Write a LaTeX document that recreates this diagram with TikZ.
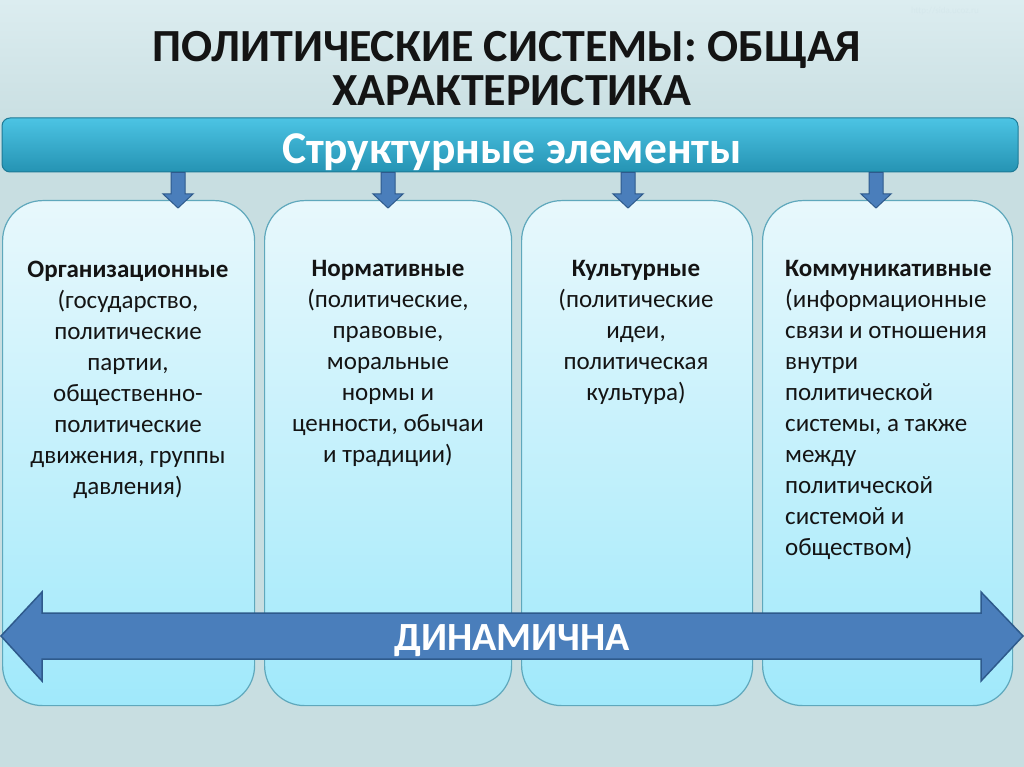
\documentclass[tikz,border=0pt]{standalone}
\usepackage{fontspec}
\setmainfont{Carlito}
\usetikzlibrary{calc}
\definecolor{bg}{HTML}{C8DEE1}
\definecolor{bgtop}{HTML}{DCEDF0}
\definecolor{barTop}{HTML}{4CC4E4}
\definecolor{barBot}{HTML}{2593B3}
\definecolor{barEdge}{HTML}{1E7A96}
\definecolor{boxTop}{HTML}{E8F8FC}
\definecolor{boxBot}{HTML}{A0E9FB}
\definecolor{boxEdge}{HTML}{5FA8BC}
\definecolor{arrFill}{HTML}{4A7EBB}
\definecolor{arrEdge}{HTML}{2E5A8C}
\definecolor{ink}{HTML}{141414}
\definecolor{url}{HTML}{D6E8EC}
\tikzset{
  hdr/.style={draw=barEdge, line width=1pt, top color=barTop, bottom color=barBot,
    rounded corners=8pt},
  elbox/.style={draw=boxEdge, line width=1.2pt, top color=boxTop, bottom color=boxBot,
    rounded corners=40pt, anchor=north west, inner sep=0pt},
  eltext/.style={text=ink, inner sep=0pt, font=\fontsize{25}{31}\selectfont},
  blk/.style={fill=arrFill, draw=arrEdge, line width=1pt, line join=miter},
  title/.style={text=ink, align=center, inner sep=0pt, font=\fontsize{46}{48}\selectfont\bfseries}
}
\begin{document}
\begin{tikzpicture}[x=1pt,y=-1pt]
\useasboundingbox (0,0) rectangle (1024,767);
\fill[bg] (0,0) rectangle (1024,767);
\shade[top color=bgtop, bottom color=bg] (0,0) rectangle (1024,130);

\node[text=url, font=\fontsize{9}{10}\selectfont, anchor=base] (url) at (945,14) {http://sida.ucoz.ru};

\node[title, anchor=base] (t1) at (507,62) {ПОЛИТИЧЕСКИЕ СИСТЕМЫ: ОБЩАЯ};
\node[title, anchor=base] (t2) at (512,106) {ХАРАКТЕРИСТИКА};

\node[hdr, minimum width=1016pt, minimum height=54pt, inner sep=0pt] (hdr) at (510,145) {};
\node[text=white, font=\fontsize{45.5}{50}\selectfont\bfseries, anchor=base, inner sep=0pt] (hdrtxt) at (512,164) {Структурные элементы};

\node[elbox, minimum width=252pt, minimum height=505pt] (b1) at (2,200) {};
\node[elbox, minimum width=247pt, minimum height=505pt] (b2) at (264,200) {};
\node[elbox, minimum width=231pt, minimum height=505pt] (b3) at (521,200) {};
\node[elbox, minimum width=250pt, minimum height=505pt] (b4) at (762,200) {};

\node[eltext, align=center, anchor=base] (x1) at (128,494) {\textbf{Организационные}\\(государство,\\политические\\партии,\\общественно-\\политические\\движения, группы\\давления)};
\node[eltext, align=center, anchor=base] (x2) at (388,462) {\textbf{Нормативные}\\(политические,\\правовые,\\моральные\\нормы и\\ценности, обычаи\\и традиции)};
\node[eltext, align=center, anchor=base] (x3) at (636,400) {\textbf{Культурные}\\(политические\\идеи,\\политическая\\культура)};
\node[eltext, align=left, anchor=base west] (x4) at (785,555) {\textbf{Коммуникативные}\\(информационные\\связи и отношения\\внутри\\политической\\системы, а также\\между\\политической\\системой и\\обществом)};

\foreach \px/\bx in {178/b1,388/b2,628/b3,876/b4}{
  \coordinate (p) at (\px,0);
  \coordinate (s) at (hdr.south -| p);
  \coordinate (e) at (\bx.north -| p);
  \draw[blk] ($(s)+(-7,0)$) -- ($(s)+(7,0)$) -- ($(e)+(7,-6)$) -- ($(e)+(15,-6)$)
     -- ($(e)+(0,8)$) -- ($(e)+(-15,-6)$) -- ($(e)+(-7,-6)$) -- cycle;
}

\coordinate (L) at (1,636);
\coordinate (R) at (1023,636);
\draw[blk, line width=1.5pt] (L) -- ($(L)+(41,-44)$) -- ($(L)+(41,-23)$) -- ($(R)+(-42,-23)$)
  -- ($(R)+(-42,-44)$) -- (R) -- ($(R)+(-42,45)$) -- ($(R)+(-42,23)$) -- ($(L)+(41,23)$)
  -- ($(L)+(41,45)$) -- cycle;
\node[text=white, font=\fontsize{40}{44}\selectfont\bfseries, anchor=base, inner sep=0pt] (dyn) at (512,650) {ДИНАМИЧНА};
\end{tikzpicture}
\end{document}
